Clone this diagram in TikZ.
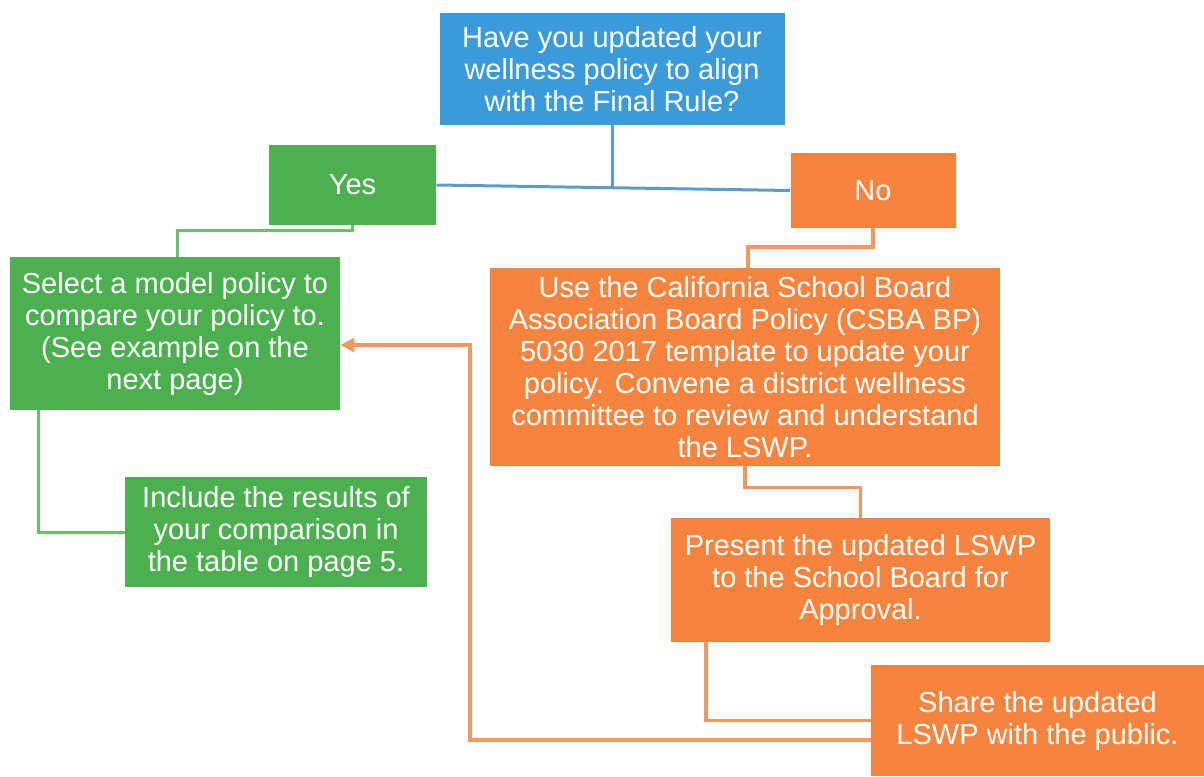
\documentclass[tikz,border=0pt]{standalone}
\usepackage{fontspec}
\setmainfont{Liberation Sans}
\usepackage{tikz}
\usetikzlibrary{arrows.meta}

\definecolor{qblue}{RGB}{59,155,218}
\definecolor{ygreen}{RGB}{77,176,80}
\definecolor{norange}{RGB}{247,132,62}
\definecolor{bline}{RGB}{90,155,208}
\definecolor{gline}{RGB}{102,194,102}
\definecolor{oline}{RGB}{248,150,96}

\begin{document}
\begin{tikzpicture}[x = 0.5pt, y = -0.5pt,
  box/.style = {shape = rectangle, text = white, align = center, inner sep = 0pt,
    font = \fontsize{14.5}{16}\selectfont},
  bluebox/.style = {box, fill = qblue},
  greenbox/.style = {box, fill = ygreen},
  orangebox/.style = {box, fill = norange},
  blueline/.style = {draw = bline, line width = 1.5pt},
  greenline/.style = {draw = gline, line width = 1.5pt},
  orangeline/.style = {draw = oline, line width = 1.8pt}]
\useasboundingbox (0,0) rectangle (1204,776);

\node[bluebox, minimum width = 172.5pt, minimum height = 56pt](Q) at (612,69) {Have you updated your\\wellness policy to align\\with the Final Rule?};
\node[greenbox, minimum width = 83.5pt, minimum height = 40pt](Y) at (352.5,185) {Yes};
\node[orangebox, minimum width = 82.5pt, minimum height = 37.5pt](N) at (873,190.5) {No};
\node[greenbox, minimum width = 165pt, minimum height = 76.5pt](S) at (175,333.5) {Select a model policy to\\compare your policy to.\\(See example on the\\next page)};
\node[greenbox, minimum width = 151pt, minimum height = 55pt](I) at (276,532) {Include the results of\\your comparison in\\the table on page 5.};
\node[orangebox, minimum width = 255pt, minimum height = 99pt](C) at (745,367) {Use the California School Board\\Association Board Policy (CSBA BP)\\5030 2017 template to update your\\policy. Convene a district wellness\\committee to review and understand\\the LSWP.};
\node[orangebox, minimum width = 189.5pt, minimum height = 62pt](P) at (860.5,580) {Present the updated LSWP\\to the School Board for\\Approval.};
\node[orangebox, minimum width = 166.5pt, minimum height = 55.5pt](H) at (1037.5,720.5) {Share the updated\\LSWP with the public.};

\coordinate (J) at (612,188);
\coordinate (G1) at (177,230);
\coordinate (G2) at (38,470);
\coordinate (O1) at (748,247);
\coordinate (O2) at (706,717);
\coordinate (O3) at (470,740);
\coordinate (O4) at (470,345);

\path[blueline] (Y.east) -- (N.west);
\path[blueline] (Q.south) -- (Q.south |- J);
\path[greenline] (Y.south) |- (G1) -- (G1 |- S.north);
\path[greenline] (S.south -| G2) |- (I.west);
\path[orangeline] (N.south) |- (O1) -- (O1 |- C.north);
\path[orangeline] (C.south) -- ++(0,21) -| (P.north);
\path[orangeline] (P.south -| O2) |- (H.west);
\path[orangeline, -{Triangle[length = 7pt, width = 7pt]}] (H.west |- O3) -- (O3) -- (O4) -- (S.east |- O4);
\end{tikzpicture}
\end{document}
